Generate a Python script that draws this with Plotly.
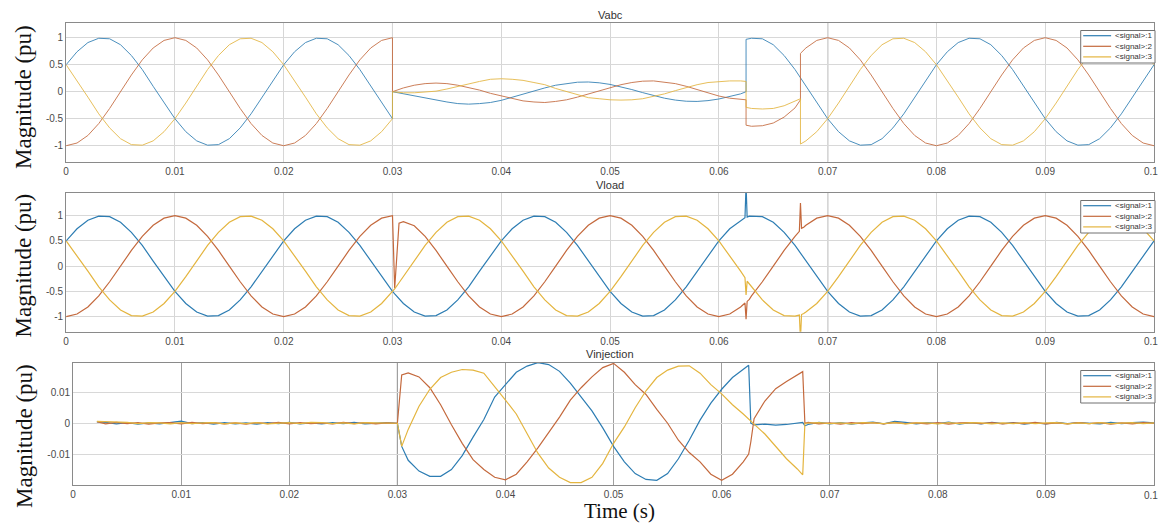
import plotly.graph_objects as go

# ---------------- data (time in ms, values in pu) ----------------
t_abc = list(range(0, 31)) + [30] + list(range(31, 63)) + [62.5, 62.5] + list(range(63, 68)) + [67.5, 67.5] + list(range(68, 101))
t_load = list(range(0, 31)) + [30.2, 30.6] + list(range(31, 63)) + [62.4, 62.5, 62.6, 62.8] + list(range(63, 68)) + [67.4, 67.5, 67.6, 67.8] + list(range(68, 101))
t_inj = [2.2] + list(range(3, 30)) + [30, 30.4] + list(range(31, 63)) + [62.5, 62.7] + list(range(63, 68)) + [67.5, 67.7] + list(range(68, 101))

vabc_1 = ([0.5, 0.74, 0.91, 0.99, 0.98, 0.87, 0.67, 0.41, 0.1, -0.21, -0.5, -0.74, -0.91, -0.99, -0.98, -0.87, -0.67, -0.41, -0.1, 0.21]
          + [0.5, 0.74, 0.91, 0.99, 0.98, 0.87, 0.67, 0.41, 0.1, -0.21, -0.5]
          + [0.0]
          + [-0.04, -0.08, -0.12, -0.16, -0.19, -0.22, -0.23, -0.22, -0.2, -0.16,
             -0.1, -0.04, 0.02, 0.07, 0.12, 0.155, 0.176, 0.18, 0.165, 0.135,
             0.09, 0.04, -0.017, -0.07, -0.12, -0.155, -0.176, -0.18, -0.165, -0.135,
             -0.09, -0.04]
          + [0.0, 0.97]
          + [0.99, 0.98, 0.87, 0.67, 0.41]
          + [0.26, 0.26]
          + [0.1, -0.21, -0.5, -0.74, -0.91, -0.99, -0.98, -0.87, -0.67, -0.41, -0.1, 0.21]
          + [0.5, 0.74, 0.91, 0.99, 0.98, 0.87, 0.67, 0.41, 0.1, -0.21, -0.5, -0.74, -0.91, -0.99, -0.98, -0.87, -0.67, -0.41, -0.1, 0.21]
          + [0.5])
vabc_2 = ([-1.0, -0.95, -0.81, -0.59, -0.31, 0.0, 0.31, 0.59, 0.81, 0.95, 1.0, 0.95, 0.81, 0.59, 0.31, 0.0, -0.31, -0.59, -0.81, -0.95]
          + [-1.0, -0.95, -0.81, -0.59, -0.31, 0.0, 0.31, 0.59, 0.81, 0.95, 1.0]
          + [0.0]
          + [0.07, 0.12, 0.15, 0.16, 0.15, 0.12, 0.08, 0.03, -0.03, -0.08,
             -0.13, -0.17, -0.19, -0.2, -0.18, -0.15, -0.1, -0.04, 0.02, 0.08,
             0.13, 0.17, 0.195, 0.2, 0.18, 0.15, 0.1, 0.04, -0.02, -0.08,
             -0.12, -0.14]
          + [-0.15, -0.62]
          + [-0.64, -0.63, -0.58, -0.47, -0.3]
          + [-0.15, 0.71]
          + [0.81, 0.95, 1.0, 0.95, 0.81, 0.59, 0.31, 0.0, -0.31, -0.59, -0.81, -0.95]
          + [-1.0, -0.95, -0.81, -0.59, -0.31, 0.0, 0.31, 0.59, 0.81, 0.95, 1.0, 0.95, 0.81, 0.59, 0.31, 0.0, -0.31, -0.59, -0.81, -0.95]
          + [-1.0])
vabc_3 = ([0.5, 0.21, -0.1, -0.41, -0.67, -0.87, -0.98, -0.99, -0.91, -0.74, -0.5, -0.21, 0.1, 0.41, 0.67, 0.87, 0.98, 0.99, 0.91, 0.74]
          + [0.5, 0.21, -0.1, -0.41, -0.67, -0.87, -0.98, -0.99, -0.91, -0.74, -0.5]
          + [0.0]
          + [-0.02, -0.02, -0.01, 0.01, 0.05, 0.1, 0.15, 0.19, 0.23, 0.24,
             0.23, 0.21, 0.17, 0.13, 0.06, 0.0, -0.06, -0.11, -0.13, -0.15,
             -0.155, -0.15, -0.13, -0.09, -0.04, 0.02, 0.08, 0.13, 0.17, 0.19,
             0.2, 0.2]
          + [0.19, -0.29]
          + [-0.31, -0.32, -0.31, -0.26, -0.17]
          + [-0.13, -0.97]
          + [-0.91, -0.74, -0.5, -0.21, 0.1, 0.41, 0.67, 0.87, 0.98, 0.99, 0.91, 0.74]
          + [0.5, 0.21, -0.1, -0.41, -0.67, -0.87, -0.98, -0.99, -0.91, -0.74, -0.5, -0.21, 0.1, 0.41, 0.67, 0.87, 0.98, 0.99, 0.91, 0.74]
          + [0.5])

vload_1 = ([0.5, 0.74, 0.91, 0.99, 0.98, 0.87, 0.67, 0.41, 0.1, -0.21, -0.5, -0.74, -0.91, -0.99, -0.98, -0.87, -0.67, -0.41, -0.1, 0.21]
           + [0.5, 0.74, 0.91, 0.99, 0.98, 0.87, 0.67, 0.41, 0.1, -0.21, -0.5]
           + [-0.55, -0.65]
           + [-0.74, -0.91, -0.99, -0.98, -0.87, -0.67, -0.41, -0.1, 0.21, 0.5,
              0.74, 0.91, 0.99, 0.98, 0.87, 0.67, 0.41, 0.1, -0.21, -0.5,
              -0.74, -0.91, -0.99, -0.98, -0.87, -0.67, -0.41, -0.1, 0.21, 0.5,
              0.74, 0.91]
           + [0.96, 1.6, 0.97, 0.99]
           + [0.99, 0.98, 0.87, 0.67, 0.41]
           + [0.29, 0.26, 0.23, 0.17]
           + [0.1, -0.21, -0.5, -0.74, -0.91, -0.99, -0.98, -0.87, -0.67, -0.41, -0.1, 0.21]
           + [0.5, 0.74, 0.91, 0.99, 0.98, 0.87, 0.67, 0.41, 0.1, -0.21, -0.5, -0.74, -0.91, -0.99, -0.98, -0.87, -0.67, -0.41, -0.1, 0.21]
           + [0.5])
vload_2 = ([-1.0, -0.95, -0.81, -0.59, -0.31, 0.0, 0.31, 0.59, 0.81, 0.95, 1.0, 0.95, 0.81, 0.59, 0.31, 0.0, -0.31, -0.59, -0.81, -0.95]
           + [-1.0, -0.95, -0.81, -0.59, -0.31, 0.0, 0.31, 0.59, 0.81, 0.95, 1.0]
           + [-0.44, 0.85]
           + [0.88, 0.8, 0.59, 0.31, 0.0, -0.31, -0.59, -0.81, -0.95, -1.0,
              -0.95, -0.81, -0.59, -0.31, 0.0, 0.31, 0.59, 0.81, 0.95, 1.0,
              0.95, 0.81, 0.59, 0.31, 0.0, -0.31, -0.59, -0.81, -0.95, -1.0,
              -0.95, -0.81]
           + [-0.73, -1.05, -0.7, -0.66]
           + [-0.59, -0.31, 0.0, 0.31, 0.59]
           + [0.69, 1.25, 0.75, 0.77]
           + [0.81, 0.95, 1.0, 0.95, 0.81, 0.59, 0.31, 0.0, -0.31, -0.59, -0.81, -0.95]
           + [-1.0, -0.95, -0.81, -0.59, -0.31, 0.0, 0.31, 0.59, 0.81, 0.95, 1.0, 0.95, 0.81, 0.59, 0.31, 0.0, -0.31, -0.59, -0.81, -0.95]
           + [-1.0])
vload_3 = ([0.5, 0.21, -0.1, -0.41, -0.67, -0.87, -0.98, -0.99, -0.91, -0.74, -0.5, -0.21, 0.1, 0.41, 0.67, 0.87, 0.98, 0.99, 0.91, 0.74]
           + [0.5, 0.21, -0.1, -0.41, -0.67, -0.87, -0.98, -0.99, -0.91, -0.74, -0.5]
           + [-0.45, -0.33]
           + [-0.21, 0.1, 0.41, 0.67, 0.87, 0.98, 0.99, 0.91, 0.74, 0.5,
              0.21, -0.1, -0.41, -0.67, -0.87, -0.98, -0.99, -0.91, -0.74, -0.5,
              -0.21, 0.1, 0.41, 0.67, 0.87, 0.98, 0.99, 0.91, 0.74, 0.5,
              0.21, -0.1]
           + [-0.23, -0.57, -0.3, -0.35]
           + [-0.41, -0.67, -0.87, -0.98, -0.99]
           + [-0.97, -1.45, -0.96, -0.94]
           + [-0.91, -0.74, -0.5, -0.21, 0.1, 0.41, 0.67, 0.87, 0.98, 0.99, 0.91, 0.74]
           + [0.5, 0.21, -0.1, -0.41, -0.67, -0.87, -0.98, -0.99, -0.91, -0.74, -0.5, -0.21, 0.1, 0.41, 0.67, 0.87, 0.98, 0.99, 0.91, 0.74]
           + [0.5])

vinj_1 = ([0.0004, 0.0003, -0.0002, 0.0002, -0.0003, 0.0001, -0.0002, 0.0003, 0.0007, -0.0001,
           0.0002, -0.0003, 0.0002, -0.0002, 0.0001, -0.0003, 0.0002, -0.0001, 0.0003, -0.0002,
           0.0001, -0.0002, 0.0002, -0.0001, 0.0003, -0.0002, 0.0001, 0.0002]
          + [0.0, -0.0075,
             -0.012, -0.0155, -0.0172, -0.0172, -0.015, -0.0105, -0.0045, 0.0012, 0.0085, 0.0125,
             0.0165, 0.0185, 0.0196, 0.019, 0.0168, 0.013, 0.0085, 0.004, -0.0015, -0.0075,
             -0.0125, -0.0163, -0.0182, -0.0185, -0.0163, -0.0115, -0.0055, 0.001, 0.0065, 0.011,
             0.0148, 0.0175,
             0.0188, 0.0,
             -0.0005, -0.0003, -0.0006, -0.0004, 0.0002,
             0.0003, -0.0008]
          + [-0.0004, 0.0003, -0.0002, 0.0002, -0.0003, 0.0001, 0.0004, -0.0002, 0.0006, 0.0003,
             -0.0002, 0.0002, -0.0001, 0.0004, -0.0003, 0.0002, -0.0002, 0.0003, -0.0001, 0.0002,
             -0.0003, 0.0001, -0.0002, 0.0003, -0.0001, 0.0002, 0.0001, -0.0002, 0.0003, -0.0001,
             0.0002, 0.0004, 0.0001])
vinj_2 = ([0.0005, -0.0002, 0.0003, -0.0001, 0.0002, -0.0003, 0.0001, 0.0002, -0.0002, 0.0003,
           -0.0001, 0.0002, -0.0002, 0.0001, -0.0003, 0.0002, -0.0001, 0.0003, -0.0002, 0.0002,
           -0.0001, 0.0001, -0.0002, 0.0003, -0.0001, 0.0002, -0.0002, 0.0001]
          + [0.0, 0.0156,
             0.0163, 0.015, 0.0115, 0.006, -0.0005, -0.0065, -0.0118, -0.015, -0.0175, -0.0183,
             -0.0165, -0.0125, -0.008, -0.003, 0.002, 0.0075, 0.0115, 0.015, 0.018, 0.0194,
             0.0165, 0.0125, 0.0093, 0.0045, 0.0, -0.0055, -0.0095, -0.0125, -0.0165, -0.0185,
             -0.0165, -0.0125,
             -0.01, -0.006,
             0.0015, 0.0072, 0.0112, 0.0135, 0.0157,
             0.0167, 0.0]
          + [0.0003, -0.0002, 0.0001, -0.0003, 0.0002, -0.0001, 0.0002, -0.0002, 0.0003, -0.0001,
             0.0001, -0.0002, 0.0002, -0.0003, 0.0001, 0.0002, -0.0001, 0.0002, -0.0002, 0.0001,
             -0.0001, 0.0003, -0.0002, 0.0001, -0.0002, 0.0002, -0.0001, 0.0002, -0.0003, 0.0001,
             -0.0002, 0.0002, 0.0])
vinj_3 = ([0.0006, 0.0005, 0.0004, 0.0003, -0.0001, 0.0002, 0.0001, -0.0002, 0.0002, -0.0001,
           0.0001, 0.0002, -0.0002, 0.0001, -0.0001, 0.0002, -0.0002, 0.0001, 0.0002, -0.0001,
           0.0003, 0.0002, -0.0001, 0.0001, -0.0002, 0.0002, 0.0001, -0.0001]
          + [0.0, -0.0075,
             -0.002, 0.0055, 0.011, 0.0148, 0.0165, 0.0174, 0.0172, 0.0162, 0.012, 0.0075,
             0.003, -0.0035, -0.0097, -0.0145, -0.0175, -0.0192, -0.0192, -0.0175, -0.013, -0.0065,
             -0.0012, 0.005, 0.0105, 0.0148, 0.0172, 0.0185, 0.0186, 0.0162, 0.0125, 0.0095,
             0.006, 0.003,
             0.0015, 0.0008,
             -0.0003, -0.0035, -0.0075, -0.0115, -0.0148,
             -0.0167, 0.0]
          + [0.0001, 0.0002, -0.0001, 0.0001, -0.0002, 0.0002, 0.0001, -0.0001, 0.0002, -0.0002,
             0.0001, 0.0001, -0.0002, 0.0002, -0.0001, 0.0002, 0.0001, -0.0002, 0.0001, -0.0001,
             0.0002, -0.0001, 0.0001, 0.0002, -0.0002, 0.0001, -0.0001, 0.0002, -0.0001, 0.0001,
             0.0002, -0.0001, 0.0001])

signal_names = ["<signal>:1", "<signal>:2", "<signal>:3"]
panel_titles = ["Vabc", "Vload", "Vinjection"]
x_tickvals = [0, 10, 20, 30, 40, 50, 60, 70, 80, 90, 100]
x_ticktext = ["0", "0.01", "0.02", "0.03", "0.04", "0.05", "0.06", "0.07", "0.08", "0.09", "0.1"]
y_tickvals_pu = [-1, -0.5, 0, 0.5, 1]
y_ticktext_pu = ["-1", "-0.5", "0", "0.5", "1"]
y_tickvals_inj = [-0.01, 0, 0.01]
y_ticktext_inj = ["-0.01", "0", "0.01"]

# ---------------- styling ----------------
W, H = 1159, 524
def px(x):
    return x / W
def py(y):
    return 1 - y / H

colors = ["#2d7db3", "#c4693d", "#e4b53f"]
# panel pixel boxes: (left, right, top, bottom)
boxes = [(63.3, 1154, 22.7, 161.7), (63.3, 1154, 192.7, 331.7), (70.3, 1154, 362.7, 485)]
yranges = [[-1.296, 1.278], [-1.30, 1.455], [-0.0200, 0.0196]]

fig = go.Figure()
series = [
    (t_abc, [vabc_1, vabc_2, vabc_3]),
    (t_load, [vload_1, vload_2, vload_3]),
    (t_inj, [vinj_1, vinj_2, vinj_3]),
]
for p, (tt, vals) in enumerate(series):
    xa = "x" if p == 0 else f"x{p+1}"
    ya = "y" if p == 0 else f"y{p+1}"
    for i, v in enumerate(vals):
        fig.add_trace(go.Scatter(
            x=tt, y=v, mode="lines", name=signal_names[i], xaxis=xa, yaxis=ya,
            line=dict(color=colors[i], width=1.0 if p == 0 else 1.2),
            opacity=0.85 if p == 0 else 1.0, showlegend=False,
        ))

tickfont = dict(family="Liberation Sans, Arial, sans-serif", size=10, color="#4a4a4a")
layout = dict(
    width=W, height=H, margin=dict(l=0, r=0, t=0, b=0),
    paper_bgcolor="white", plot_bgcolor="white", showlegend=False,
)
for p, (l, r, t, b) in enumerate(boxes):
    xk = "xaxis" if p == 0 else f"xaxis{p+1}"
    yk = "yaxis" if p == 0 else f"yaxis{p+1}"
    ya = "y" if p == 0 else f"y{p+1}"
    xa = "x" if p == 0 else f"x{p+1}"
    layout[xk] = dict(
        domain=[px(l), px(r)], anchor=ya, range=[0, 100],
        # the last label (at the right page edge) is placed as an annotation below
        tickvals=x_tickvals[:-1], ticktext=x_ticktext[:-1], tickfont=tickfont,
        showgrid=True, gridcolor="#a0a0a0" if p == 2 else "#d6d6d6", gridwidth=1,
        zeroline=False, showline=True, mirror=True, linecolor="#8a8a8a", linewidth=1,
        ticks="", fixedrange=True,
    )
    layout[yk] = dict(
        domain=[py(b), py(t)], anchor=xa, range=yranges[p],
        tickvals=y_tickvals_inj if p == 2 else y_tickvals_pu,
        ticktext=y_ticktext_inj if p == 2 else y_ticktext_pu,
        tickfont=tickfont, showgrid=True, gridcolor="#d8d8d8", gridwidth=1,
        zeroline=False, showline=True, mirror=True, linecolor="#8a8a8a", linewidth=1,
        ticks="", fixedrange=True,
    )
fig.update_layout(**layout)

shapes = []
annotations = []
# emphasised (dark) vertical grid lines
dark_lines = [(0, [30, 70], "#3c3c3c"), (1, [30, 70], "#3c3c3c"), (2, [30], "#5a5a5a")]
for p, xs, col in dark_lines:
    xa = "x" if p == 0 else f"x{p+1}"
    ya = "y" if p == 0 else f"y{p+1}"
    for xv in xs:
        shapes.append(dict(type="line", xref=xa, yref=f"{ya} domain", x0=xv, x1=xv, y0=0, y1=1,
                           line=dict(color=col, width=1), layer="below"))

title_y = [15, 185, 354]
ylab_y = [97, 265.5, 436]
for p, (l, r, t, b) in enumerate(boxes):
    annotations.append(dict(text=panel_titles[p], x=px(609), y=py(title_y[p]), xref="paper", yref="paper",
                            showarrow=False, xanchor="center", yanchor="middle",
                            font=dict(family="Liberation Sans, Arial, sans-serif", size=11, color="#333")))
    annotations.append(dict(text="Magnitude (pu)", x=px(21), y=py(ylab_y[p]), xref="paper", yref="paper",
                            showarrow=False, textangle=-90, xanchor="center", yanchor="middle",
                            font=dict(family="Liberation Serif, Times New Roman, serif", size=23, color="#111")))
    # last x tick label, kept inside the page
    annotations.append(dict(text=x_ticktext[-1], x=1.0, y=py(b + 10), xref="paper", yref="paper",
                            showarrow=False, xanchor="right", yanchor="middle", borderpad=0,
                            font=tickfont))
    # manual legend box
    bt = t + 7.8
    bb = bt + 32.5
    shapes.append(dict(type="rect", xref="paper", yref="paper", x0=px(1080.5), x1=px(1155), y0=py(bb), y1=py(bt),
                       line=dict(color="#707070", width=1), fillcolor="white", layer="above"))
    for i in range(3):
        ry = bt + 5.2 + 10.6 * i
        shapes.append(dict(type="line", xref="paper", yref="paper", x0=px(1083), x1=px(1111), y0=py(ry), y1=py(ry),
                           line=dict(color=colors[i], width=1.2), layer="above"))
        annotations.append(dict(text=signal_names[i].replace("<", "&lt;").replace(">", "&gt;"),
                                x=px(1113), y=py(ry), xref="paper", yref="paper",
                                showarrow=False, xanchor="left", yanchor="middle",
                                font=dict(family="Liberation Sans, Arial, sans-serif", size=8, color="#333")))

annotations.append(dict(text="Time (s)", x=px(618), y=py(511), xref="paper", yref="paper", showarrow=False,
                        xanchor="center", yanchor="middle",
                        font=dict(family="Liberation Serif, Times New Roman, serif", size=21, color="#111")))

fig.update_layout(shapes=shapes, annotations=annotations)
fig.write_html(
    "out.html",
    config={"displayModeBar": False},
    post_script=(
        "document.documentElement.style.margin='0';document.documentElement.style.overflow='hidden';"
        "document.body.style.margin='0';document.body.style.padding='0';document.body.style.overflow='hidden';"
    ),
)
